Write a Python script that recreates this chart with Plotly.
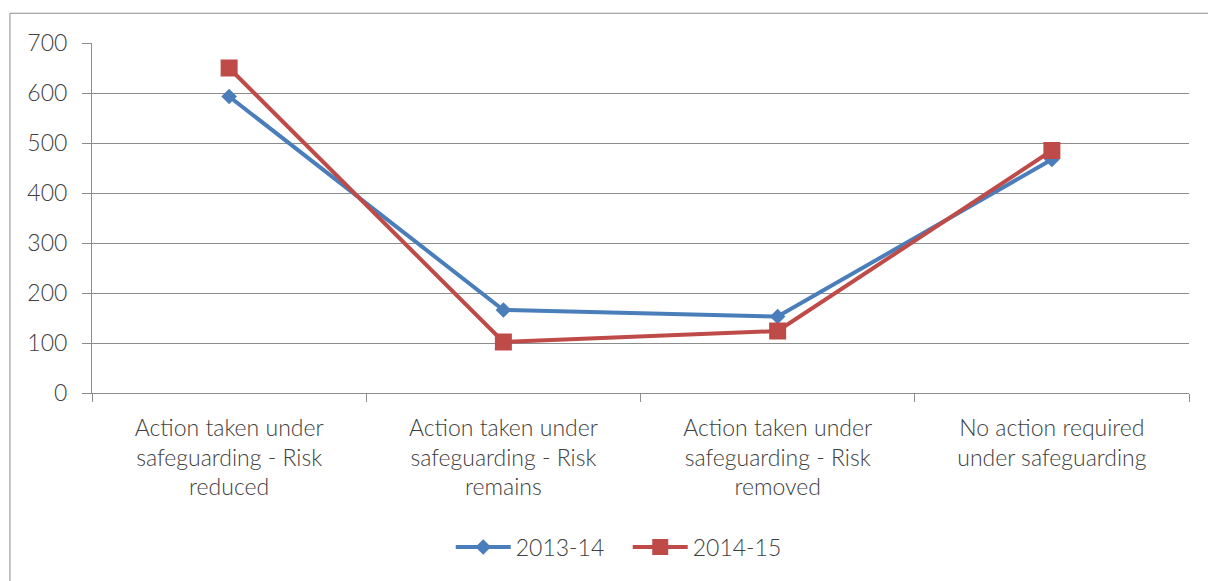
import plotly.graph_objects as go

categories = [
    "Action taken under<br>safeguarding - Risk<br>reduced",
    "Action taken under<br>safeguarding - Risk<br>remains",
    "Action taken under<br>safeguarding - Risk<br>removed",
    "No action required<br>under safeguarding",
]
values_2013_14 = [593, 166, 153, 467]
values_2014_15 = [650, 102, 124, 485]
y_ticks = [0, 100, 200, 300, 400, 500, 600, 700]

BLUE = "#4A7EBB"
RED = "#BE4B48"
TEXT = "#404040"
AXIS = "#8C8C8C"
FONT = "Lato"
FS = 23

fig = go.Figure()
fig.add_trace(go.Scatter(
    x=categories, y=values_2013_14, name="2013-14",
    mode="lines+markers",
    line=dict(color=BLUE, width=4),
    marker=dict(symbol="diamond", size=12, color=BLUE),
))
fig.add_trace(go.Scatter(
    x=categories, y=values_2014_15, name="2014-15",
    mode="lines+markers",
    line=dict(color=RED, width=4),
    marker=dict(symbol="square", size=17, color=RED),
))

# outer chart-area frame
fig.add_shape(
    type="rect", xref="paper", yref="paper",
    x0=-0.0748, x1=1.03, y0=-0.6, y1=1.085,
    line=dict(color=AXIS, width=1), fillcolor="rgba(0,0,0,0)",
    layer="below",
)

fig.update_layout(
    width=1208, height=581,
    margin=dict(l=92, r=19, t=43, b=186),
    paper_bgcolor="white", plot_bgcolor="white",
    font=dict(family=FONT, size=FS, color=TEXT, weight=300),
    showlegend=True,
    legend=dict(
        orientation="h", x=0.327, xanchor="left",
        y=-0.44, yanchor="middle",
        font=dict(size=FS, color=TEXT, weight=300),
        itemwidth=55, tracegroupgap=0,
        entrywidth=107, entrywidthmode="pixels",
    ),
    xaxis=dict(
        type="category",
        showgrid=False,
        showline=True, linecolor=AXIS, linewidth=1,
        ticks="outside", tickson="boundaries", ticklen=8, tickcolor=AXIS,
        ticklabelstandoff=14,
        tickfont=dict(size=FS, color=TEXT, weight=300),
        range=[-0.5, 3.5],
    ),
    yaxis=dict(
        range=[0, 700],
        tickvals=y_ticks,
        showgrid=True, gridcolor=AXIS, gridwidth=1,
        showline=True, linecolor=AXIS, linewidth=1,
        ticks="outside", ticklen=9, tickcolor=AXIS,
        ticklabelstandoff=10,
        tickfont=dict(size=FS, color=TEXT, weight=300),
        zeroline=False,
    ),
)

fig.write_html("out.html")
